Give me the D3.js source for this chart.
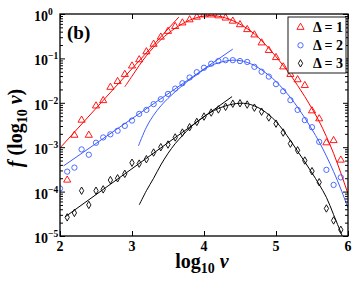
<!DOCTYPE html>
<html><head><meta charset="utf-8">
<script src="https://cdn.jsdelivr.net/npm/d3@7"></script>
<style>body{margin:0;background:#fff}svg{display:block}text{font-family:"Liberation Serif","Times New Roman",serif;font-weight:bold}</style>
</head><body>
<script>
// ---- data (log10 v on x, log10 f on y) ----
const lxRed   = [2.1,2.2,2.3,2.4,2.5,2.6,2.7,2.8,2.9,3.0,3.1,3.2,3.3,3.4,3.5,3.6,3.7,3.8,3.9,4.0,4.1,4.2,4.3,4.4,4.5,4.6,4.7,4.8,4.9,5.0,5.1,5.2,5.3,5.4,5.5,5.6,5.7,5.8,5.9];
const logfRed = [-3.74,-2.73,-2.39,-2.73,-2.07,-1.95,-1.65,-1.52,-1.36,-1.17,-1.03,-0.85,-0.68,-0.52,-0.39,-0.28,-0.20,-0.13,-0.07,-0.02,-0.02,-0.04,-0.09,-0.16,-0.24,-0.35,-0.47,-0.65,-0.82,-0.98,-1.19,-1.36,-1.48,-1.61,-2.18,-2.36,-2.90,-2.85,-3.29];
const lxBlue   = [2.0,2.1,2.2,2.3,2.4,2.5,2.6,2.7,2.8,2.9,3.0,3.1,3.2,3.3,3.4,3.5,3.6,3.7,3.8,3.9,4.0,4.1,4.2,4.3,4.4,4.5,4.6,4.7,4.8,4.9,5.0,5.1,5.2,5.3,5.4,5.5,5.6,5.7,5.8,5.9];
const logfBlue = [-3.93,-3.55,-3.46,-3.05,-3.17,-2.90,-2.78,-2.71,-2.63,-2.52,-2.40,-2.25,-2.16,-2.03,-1.92,-1.80,-1.68,-1.56,-1.43,-1.31,-1.21,-1.12,-1.06,-1.04,-1.04,-1.06,-1.08,-1.19,-1.30,-1.41,-1.58,-1.74,-1.94,-2.16,-2.39,-2.55,-2.88,-3.51,-3.85,-3.68];
const lxBlack   = [2.1,2.2,2.3,2.4,2.5,2.6,2.7,2.8,2.9,3.0,3.1,3.2,3.3,3.4,3.5,3.6,3.7,3.8,3.9,4.0,4.1,4.2,4.3,4.4,4.5,4.6,4.7,4.8,4.9,5.0,5.1,5.2,5.3,5.4,5.5,5.6,5.7,5.8,5.9];
const logfBlack = [-4.58,-4.48,-3.98,-4.30,-3.98,-3.95,-3.74,-3.70,-3.60,-3.35,-3.37,-3.27,-3.12,-3.00,-2.94,-2.78,-2.67,-2.55,-2.43,-2.31,-2.22,-2.15,-2.09,-2.02,-2.01,-2.04,-2.11,-2.20,-2.33,-2.47,-2.67,-2.92,-3.07,-3.30,-3.54,-3.79,-4.38,-4.65,-4.86];

// fitted curves
const fitRedLx  = [2.90,3.0,3.1,3.2,3.3,3.4,3.5,3.6,3.7,3.8,3.9,4.0,4.1,4.2,4.3,4.4,4.5,4.6,4.7,4.8,4.9,5.0,5.1,5.2,5.3,5.4,5.5,5.6,5.7,5.8,5.9,6.0];
const fitRedLf  = [-1.64,-1.40,-1.16,-0.94,-0.75,-0.58,-0.44,-0.32,-0.22,-0.14,-0.08,-0.045,-0.035,-0.05,-0.09,-0.15,-0.23,-0.33,-0.45,-0.60,-0.77,-0.96,-1.16,-1.37,-1.61,-1.86,-2.13,-2.42,-2.76,-3.14,-3.58,-4.05];
const fitBlueLx = [3.09,3.2,3.3,3.4,3.5,3.6,3.7,3.8,3.9,4.0,4.1,4.2,4.3,4.4,4.5,4.6,4.7,4.8,4.9,5.0,5.1,5.2,5.3,5.4,5.5,5.6,5.7,5.8,5.9,6.0];
const fitBlueLf = [-2.97,-2.55,-2.28,-2.07,-1.90,-1.75,-1.61,-1.48,-1.37,-1.25,-1.16,-1.10,-1.06,-1.04,-1.05,-1.09,-1.16,-1.26,-1.38,-1.52,-1.69,-1.88,-2.10,-2.34,-2.60,-2.88,-3.20,-3.55,-3.94,-4.37];
const fitBlackLx = [3.10,3.2,3.3,3.4,3.5,3.6,3.7,3.8,3.9,4.0,4.1,4.2,4.3,4.4,4.5,4.6,4.7,4.8,4.9,5.0,5.1,5.2,5.3,5.4,5.5,5.6,5.7,5.8,5.92];
const fitBlackLf = [-4.30,-3.98,-3.70,-3.40,-3.14,-2.92,-2.74,-2.57,-2.43,-2.31,-2.21,-2.13,-2.07,-2.03,-2.01,-2.02,-2.07,-2.15,-2.27,-2.42,-2.62,-2.85,-3.09,-3.33,-3.58,-3.84,-4.13,-4.52,-5.0];
// power-law straight fits (endpoints)
const powRedLx = [2.01,3.65],  powRedLf = [-3.0,-0.07];
const powBlueLx = [2.05,4.40], powBlueLf = [-3.42,-0.79];
const powBlackLx = [2.07,4.39], powBlackLf = [-4.57,-1.86];

const xTicks = [2,3,4,5,6];
const yDecades = [0,-1,-2,-3,-4,-5];
const legendLabels = ["\u0394 = 1","\u0394 = 2","\u0394 = 3"];
const colors = ["#ff0000","#3a5cff","#000000"];

// ---- layout ----
const W=354,H=282, L=60,R=348,T=14,B=236;
const svg = d3.select("body").append("svg").attr("width",W).attr("height",H);
const x = d3.scaleLinear().domain([2,6]).range([L,R]);
const y = d3.scaleLog().domain([1e-5,1]).range([B,T]);

svg.append("clipPath").attr("id","clip").append("rect").attr("x",L).attr("y",T).attr("width",R-L).attr("height",B-T);
const plot = svg.append("g").attr("clip-path","url(#clip)");

const zip = (a,b)=>a.map((v,i)=>[v,Math.pow(10,b[i])]);
const line = d3.line().x(d=>x(d[0])).y(d=>y(d[1])).curve(d3.curveCatmullRom);

const series = [
  {pts:zip(lxRed,logfRed), fit:zip(fitRedLx,fitRedLf), pow:zip(powRedLx,powRedLf), sym:d3.symbolTriangle, size:22},
  {pts:zip(lxBlue,logfBlue), fit:zip(fitBlueLx,fitBlueLf), pow:zip(powBlueLx,powBlueLf), sym:d3.symbolCircle, size:22},
  {pts:zip(lxBlack,logfBlack), fit:zip(fitBlackLx,fitBlackLf), pow:zip(powBlackLx,powBlackLf), sym:d3.symbolDiamond, size:16},
];
series.forEach((s,i)=>{
  plot.append("path").attr("d",line(s.fit)).attr("fill","none").attr("stroke",colors[i]).attr("stroke-width",1);
  plot.append("path").attr("d",line(s.pow)).attr("fill","none").attr("stroke",colors[i]).attr("stroke-width",1);
  const sym = d3.symbol().type(s.sym).size(s.size);
  plot.selectAll(null).data(s.pts).join("path")
    .attr("d",sym).attr("transform",d=>`translate(${x(d[0])},${y(d[1])})`)
    .attr("fill","none").attr("stroke",colors[i]).attr("stroke-width",0.9);
});

// ---- axes ----
const minor = [];
for (let k=-5;k<0;k++) for (let m=2;m<=9;m++) minor.push(m*Math.pow(10,k));
const axStyle = g=>{g.select(".domain").remove(); g.selectAll("line").attr("stroke","#000"); g.selectAll("text").remove();};
svg.append("g").attr("transform",`translate(0,${B})`).call(d3.axisBottom(x).tickValues(xTicks).tickSize(-5)).call(axStyle);
svg.append("g").attr("transform",`translate(0,${T})`).call(d3.axisTop(x).tickValues(xTicks).tickSize(-5)).call(axStyle);
svg.append("g").attr("transform",`translate(${L},0)`).call(d3.axisLeft(y).tickValues(yDecades.map(k=>Math.pow(10,k))).tickSize(-5)).call(axStyle);
svg.append("g").attr("transform",`translate(${R},0)`).call(d3.axisRight(y).tickValues(yDecades.map(k=>Math.pow(10,k))).tickSize(-5)).call(axStyle);
svg.append("g").attr("transform",`translate(${L},0)`).call(d3.axisLeft(y).tickValues(minor).tickSize(-3)).call(axStyle);
svg.append("g").attr("transform",`translate(${R},0)`).call(d3.axisRight(y).tickValues(minor).tickSize(-3)).call(axStyle);
svg.append("rect").attr("x",L).attr("y",T).attr("width",R-L).attr("height",B-T).attr("fill","none").attr("stroke","#000").attr("stroke-width",1.3);

// tick labels
svg.selectAll(null).data(xTicks).join("text").attr("x",d=>x(d)).attr("y",B+15)
  .attr("text-anchor","middle").attr("font-size",14).text(d=>d);
yDecades.forEach(k=>{
  const t = svg.append("text").attr("x",34).attr("y",y(Math.pow(10,k))+7).attr("font-size",14);
  t.append("tspan").text("10");
  t.append("tspan").attr("dy",-6).attr("font-size",9.5).text(k===0?"0":"\u2212"+(-k));
});

// axis labels
const xl = svg.append("text").attr("x",202).attr("y",268).attr("text-anchor","middle").attr("font-size",20);
xl.append("tspan").text("log");
xl.append("tspan").attr("dy",5).attr("font-size",14).text("10");
xl.append("tspan").attr("dy",-5).attr("font-style","italic").text(" v");

const yl = svg.append("text").attr("transform","translate(22,128) rotate(-90)").attr("text-anchor","middle").attr("font-size",20);
yl.append("tspan").attr("font-style","italic").text("f");
yl.append("tspan").text(" (log");
yl.append("tspan").attr("dy",5).attr("font-size",14).text("10");
yl.append("tspan").attr("dy",-5).attr("font-style","italic").text(" v");
yl.append("tspan").text(")");

svg.append("text").attr("x",67).attr("y",39).attr("font-size",19).text("(b)");

// legend
const lg = svg.append("g");
lg.append("rect").attr("x",288).attr("y",17).attr("width",58).attr("height",56).attr("fill","#fff").attr("stroke","#000").attr("stroke-width",0.9);
legendLabels.forEach((lab,i)=>{
  const cy = 27.3 + i*18;
  lg.append("path").attr("d",d3.symbol().type(series[i].sym).size(series[i].size)())
    .attr("transform",`translate(300.5,${cy})`).attr("fill","none").attr("stroke",colors[i]).attr("stroke-width",0.9);
  lg.append("text").attr("x",313).attr("y",cy+5).attr("font-size",14).text(lab);
});
</script>
</body></html>
